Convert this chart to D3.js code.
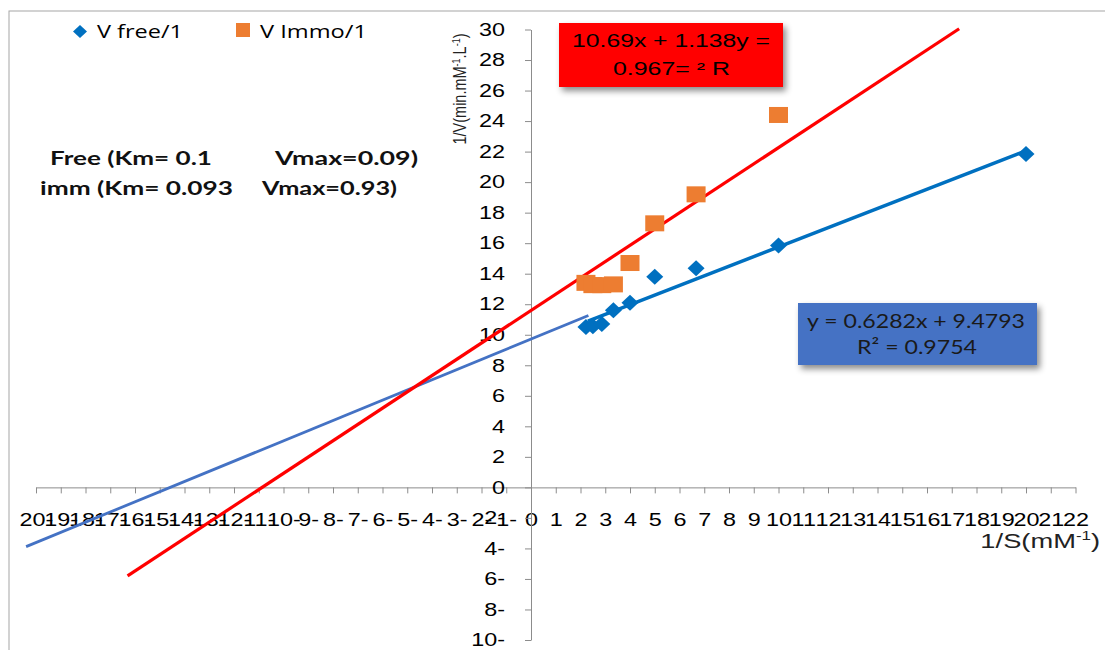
<!DOCTYPE html>
<html lang="en">
<head>
  <meta charset="UTF-8">
  <title>Lineweaver-Burk plot</title>
  <script src="https://d3js.org/d3.v7.min.js"></script>
  <style>
    body { margin: 0; background: #fff; }
    .tick text { font-family: 'Liberation Sans', Arial, sans-serif; font-size: 18px; fill: #000; }
    .axis path, .axis line { stroke: #8c8c8c; }
  </style>
</head>
<body>
<div id="chart"></div>
<script>
  // 1/S values (mM^-1) and 1/V values
  const freeX = [2.22, 2.5, 2.86, 3.33, 4, 5, 6.67, 10, 20];
  const freeY = [10.5, 10.55, 10.7, 11.6, 12.1, 13.8, 14.35, 15.85, 21.85];
  const immoX = [2.22, 2.5, 2.86, 3.33, 4, 5, 6.67, 10];
  const immoY = [13.4, 13.25, 13.25, 13.3, 14.7, 17.3, 19.2, 24.4];

  // trend lines, end points as drawn
  const freeFit = [[2.3, 10.9], [20, 22.05]];
  const freeExtra = [[-20.4, -3.88], [2.32, 11.26]];
  const immoFit = [[-16.3, -5.8], [17.3, 30.05]];

  const xTicks = d3.range(-20, 23);
  const yTicks = d3.range(-10, 31, 2);

  const width = 1105, height = 650;

  const svg = d3.select('#chart').append('svg')
    .attr('width', width)
    .attr('height', height);

  const defs = svg.append('defs');
  defs.append('filter').attr('id', 'shadow')
    .attr('x', '-20%').attr('y', '-20%').attr('width', '150%').attr('height', '160%')
    .append('feDropShadow')
    .attr('dx', 3).attr('dy', 4).attr('stdDeviation', 3)
    .attr('flood-color', '#000').attr('flood-opacity', 0.45);

  // chart frame
  svg.append('rect')
    .attr('x', 9).attr('y', 11)
    .attr('width', 1120).attr('height', 680)
    .attr('fill', 'none').attr('stroke', '#a6a6a6');

  const x = d3.scaleLinear().domain([-20, 22]).range([36, 1075.5]);
  const y = d3.scaleLinear().domain([-10, 30]).range([640, 29.5]);

  const fmt = d => d < 0 ? (-d) + '-' : String(d);

  // x axis through y = 0
  const xAxis = svg.append('g')
    .attr('class', 'axis')
    .attr('transform', 'translate(0,' + y(0) + ')')
    .call(d3.axisBottom(x).tickValues(xTicks).tickFormat(fmt)
      .tickSize(6).tickSizeOuter(0).tickPadding(20));
  xAxis.selectAll('text').attr('transform', 'scale(1.3,1)');

  // y axis through x = 0
  const yAxis = svg.append('g')
    .attr('class', 'axis')
    .attr('transform', 'translate(' + x(0) + ',0)')
    .call(d3.axisLeft(y).tickValues(yTicks).tickFormat(fmt)
      .tickSize(6).tickSizeOuter(0).tickPadding(14));
  yAxis.selectAll('text').attr('transform', 'scale(1.3,1)');

  const line = d3.line().x(d => x(d[0])).y(d => y(d[1]));

  svg.append('path').datum(freeExtra)
    .attr('d', line).attr('fill', 'none')
    .attr('stroke', '#4472c4').attr('stroke-width', 2.8);

  svg.append('path').datum(immoFit)
    .attr('d', line).attr('fill', 'none')
    .attr('stroke', '#ff0000').attr('stroke-width', 3.2);

  svg.append('path').datum(freeFit)
    .attr('d', line).attr('fill', 'none')
    .attr('stroke', '#0070c0').attr('stroke-width', 3.5);

  const diamond = (w, h) => `M0,${-h}L${w},0L0,${h}L${-w},0Z`;

  svg.selectAll('.immo')
    .data(immoX.map((v, i) => [v, immoY[i]]))
    .enter().append('rect')
    .attr('class', 'immo')
    .attr('x', d => x(d[0]) - 9.5)
    .attr('y', d => y(d[1]) - 8)
    .attr('width', 19).attr('height', 16)
    .attr('fill', '#ed7d31');

  svg.selectAll('.free')
    .data(freeX.map((v, i) => [v, freeY[i]]))
    .enter().append('path')
    .attr('class', 'free')
    .attr('transform', d => 'translate(' + x(d[0]) + ',' + y(d[1]) + ')')
    .attr('d', diamond(8.5, 8))
    .attr('fill', '#0070c0');

  // legend
  svg.append('path').attr('transform', 'translate(80,31.5)')
    .attr('d', diamond(7, 6.5)).attr('fill', '#0070c0');
  svg.append('rect').attr('x', 236).attr('y', 23).attr('width', 14).attr('height', 14)
    .attr('fill', '#ed7d31');
  const legendFont = "'Open Sans', sans-serif";
  svg.append('text').attr('x', 97).attr('y', 38)
    .attr('font-family', legendFont).attr('font-size', 19)
    .attr('textLength', 86).attr('lengthAdjust', 'spacingAndGlyphs')
    .text('V free/1');
  svg.append('text').attr('x', 260).attr('y', 38)
    .attr('font-family', legendFont).attr('font-size', 19)
    .attr('textLength', 107).attr('lengthAdjust', 'spacingAndGlyphs')
    .text('V Immo/1');

  // Km / Vmax notes
  const noteFont = "Lato, 'Open Sans', sans-serif";
  const notes = [
    { t: 'Free (Km= 0.1', x: 50, y: 165, w: 162 },
    { t: 'Vmax=0.09)', x: 275, y: 165, w: 143 },
    { t: 'imm (Km= 0.093', x: 40, y: 195, w: 193 },
    { t: 'Vmax=0.93)', x: 262, y: 195, w: 135 }
  ];
  svg.selectAll('.note').data(notes).enter().append('text')
    .attr('class', 'note')
    .attr('x', d => d.x).attr('y', d => d.y)
    .attr('font-family', noteFont).attr('font-weight', 'bold').attr('font-size', 19)
    .attr('fill', '#111')
    .attr('textLength', d => d.w).attr('lengthAdjust', 'spacingAndGlyphs')
    .text(d => d.t);

  // red equation box
  svg.append('rect').attr('x', 559).attr('y', 23).attr('width', 224).attr('height', 64)
    .attr('fill', '#ff0000').attr('filter', 'url(#shadow)');
  const boxFont = "'Liberation Sans', Arial, sans-serif";
  svg.append('text').attr('x', 572).attr('y', 47)
    .attr('font-family', boxFont).attr('font-size', 18)
    .attr('textLength', 198).attr('lengthAdjust', 'spacingAndGlyphs')
    .text('10.69x + 1.138y =');
  svg.append('text').attr('x', 613).attr('y', 75)
    .attr('font-family', boxFont).attr('font-size', 18)
    .attr('textLength', 117).attr('lengthAdjust', 'spacingAndGlyphs')
    .text('0.967= \u00B2 R');

  // blue equation box
  svg.append('rect').attr('x', 798).attr('y', 303).attr('width', 239).attr('height', 62)
    .attr('fill', '#4472c4').attr('filter', 'url(#shadow)');
  svg.append('text').attr('x', 807).attr('y', 328)
    .attr('font-family', noteFont).attr('font-size', 20).attr('fill', '#1a1a1a')
    .attr('textLength', 218).attr('lengthAdjust', 'spacingAndGlyphs')
    .text('y = 0.6282x + 9.4793');
  svg.append('text').attr('x', 857).attr('y', 354)
    .attr('font-family', noteFont).attr('font-size', 20).attr('fill', '#1a1a1a')
    .attr('textLength', 120).attr('lengthAdjust', 'spacingAndGlyphs')
    .text('R\u00B2 = 0.9754');

  // axis titles
  const yTitle = svg.append('text')
    .attr('transform', 'translate(466,89) rotate(-90) scale(1,1.3)')
    .attr('text-anchor', 'middle')
    .attr('font-family', boxFont).attr('font-size', 14.5).attr('fill', '#222');
  yTitle.append('tspan').text('1/V(min.mM');
  yTitle.append('tspan').attr('dy', -5).attr('font-size', 9).text('-1');
  yTitle.append('tspan').attr('dy', 5).text('.L');
  yTitle.append('tspan').attr('dy', -5).attr('font-size', 9).text('-1');
  yTitle.append('tspan').attr('dy', 5).text(')');

  const xTitle = svg.append('text')
    .attr('transform', 'translate(1100,548) scale(1.3,1)')
    .attr('text-anchor', 'end')
    .attr('font-family', boxFont).attr('font-size', 21).attr('fill', '#222');
  xTitle.append('tspan').text('1/S(mM');
  xTitle.append('tspan').attr('dy', -8).attr('font-size', 13).text('-1');
  xTitle.append('tspan').attr('dy', 8).text(')');
</script>
</body>
</html>
